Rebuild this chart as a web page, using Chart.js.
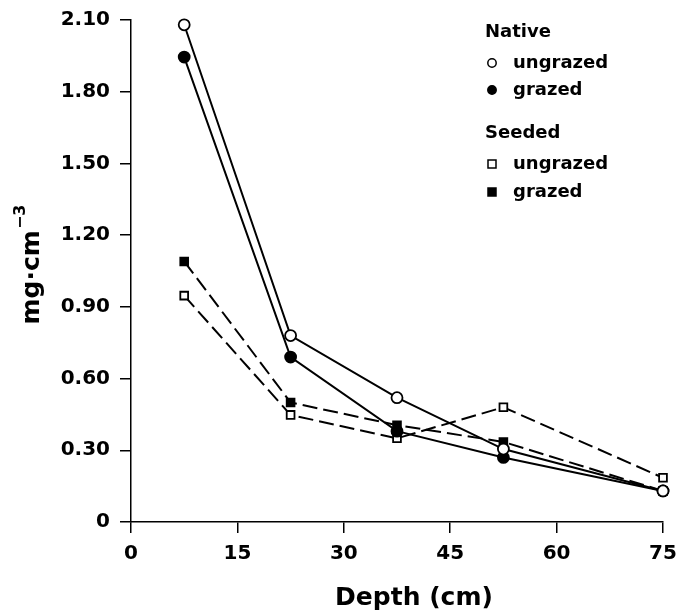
<!DOCTYPE html>
<html lang="en">
<head>
<meta charset="UTF-8">
<title>Depth chart</title>
<script src="https://cdn.jsdelivr.net/npm/chart.js@4.4.0/dist/chart.umd.min.js"></script>
<style>
  body { margin: 0; background: #fff; }
  #wrap { width: 678px; height: 613px; }
</style>
</head>
<body>
<div id="wrap"><canvas id="chart" width="678" height="613"></canvas></div>
<script>
// depth (cm) for every series
const depths = [7.5, 22.5, 37.5, 52.5, 75];
const nativeUngrazed = [2.08, 0.78, 0.52, 0.305, 0.13];
const nativeGrazed = [1.945, 0.69, 0.38, 0.27, 0.13];
const seededUngrazed = [0.947, 0.448, 0.35, 0.48, 0.185];
const seededGrazed = [1.09, 0.50, 0.405, 0.335, 0.13];
const yTicks = [0, 0.30, 0.60, 0.90, 1.20, 1.50, 1.80, 2.10];
const xTicks = [0, 15, 30, 45, 60, 75];

const FONT = '"DejaVu Sans", sans-serif';

function pts(vals) {
    return vals.map((v, i) => ({ x: depths[i], y: v }));
}

function series(label, vals, style, filled, dashed) {
    return {
        label: label,
        data: pts(vals),
        borderColor: '#000',
        borderWidth: 2,
        borderDash: dashed ? [15, 6] : [],
        pointStyle: style,
        pointRadius: 5.5,
        pointBorderWidth: 1.8,
        pointBorderColor: '#000',
        pointBackgroundColor: filled ? '#000' : '#fff',
        clip: false
    };
}

// titles (with superscript) + legend with group headers
const extras = {
    id: 'extras',
    afterDraw(chart) {
        const c = chart.ctx;
        c.save();
        c.fillStyle = '#000';
        c.textBaseline = 'alphabetic';
        // x axis title
        c.font = 'bold 25px ' + FONT;
        c.textAlign = 'center';
        c.fillText('Depth (cm)', 414, 605);
        c.textAlign = 'left';
        // y axis title
        c.translate(39, 265);
        c.rotate(-Math.PI / 2);
        const main = 'mg\u00B7cm';
        const sup = '\u22123';
        c.font = 'bold 25px ' + FONT;
        const w1 = c.measureText(main).width;
        c.font = 'bold 16px ' + FONT;
        const w2 = c.measureText(sup).width;
        const x0 = -(w1 + w2) / 2;
        c.font = 'bold 25px ' + FONT;
        c.fillText(main, x0, 0);
        c.font = 'bold 16px ' + FONT;
        c.fillText(sup, x0 + w1 + 1, -14);
        c.restore();

        // legend
        c.save();
        c.fillStyle = '#000';
        c.strokeStyle = '#000';
        c.lineWidth = 1.5;
        c.textBaseline = 'middle';
        c.font = 'bold 18px ' + FONT;
        const mx = 492, tx = 513;
        const rows = [
            { head: 'Native', y: 32 },
            { mark: 'circle', fill: false, text: 'ungrazed', y: 63 },
            { mark: 'circle', fill: true, text: 'grazed', y: 90 },
            { head: 'Seeded', y: 133 },
            { mark: 'rect', fill: false, text: 'ungrazed', y: 164 },
            { mark: 'rect', fill: true, text: 'grazed', y: 192 }
        ];
        rows.forEach(r => {
            if (r.head) {
                c.fillText(r.head, 485, r.y);
                return;
            }
            c.beginPath();
            if (r.mark === 'circle') {
                c.arc(mx, r.y, 4.2, 0, Math.PI * 2);
            } else {
                c.rect(mx - 4, r.y - 4, 8, 8);
            }
            c.fillStyle = r.fill ? '#000' : '#fff';
            c.fill();
            c.stroke();
            c.fillStyle = '#000';
            c.fillText(r.text, tx, r.y);
        });
        c.restore();
    }
};

new Chart(document.getElementById('chart'), {
    type: 'line',
    data: {
        datasets: [
            series('Native ungrazed', nativeUngrazed, 'circle', false, false),
            series('Native grazed', nativeGrazed, 'circle', true, false),
            series('Seeded ungrazed', seededUngrazed, 'rect', false, true),
            series('Seeded grazed', seededGrazed, 'rect', true, true)
        ]
    },
    options: {
        responsive: false,
        animation: false,
        layout: { padding: { top: 20, right: 15, left: 0, bottom: 0 } },
        plugins: { legend: { display: false }, tooltip: { enabled: false } },
        scales: {
            x: {
                type: 'linear',
                min: 0,
                max: 75,
                afterBuildTicks(axis) { axis.ticks = xTicks.map(v => ({ value: v })); },
                afterFit(axis) {
                    axis.height = 91;
                    axis.paddingLeft = 0;
                    axis.paddingRight = 0;
                },
                grid: { drawOnChartArea: false, drawTicks: true, tickLength: 11, color: '#000', lineWidth: 1.5 },
                border: { display: true, color: '#000', width: 1.5 },
                ticks: { color: '#000', padding: 9, font: { family: FONT, size: 20, weight: 'bold' }, maxRotation: 0 }
            },
            y: {
                type: 'linear',
                min: 0,
                max: 2.1,
                afterBuildTicks(axis) { axis.ticks = yTicks.map(v => ({ value: v })); },
                afterFit(axis) {
                    axis.width = 131;
                    axis.paddingTop = 0;
                    axis.paddingBottom = 0;
                },
                grid: { drawOnChartArea: false, drawTicks: true, tickLength: 11, color: '#000', lineWidth: 1.5 },
                border: { display: true, color: '#000', width: 1.5 },
                ticks: {
                    color: '#000',
                    padding: 10,
                    font: { family: FONT, size: 20, weight: 'bold' },
                    callback: v => v === 0 ? '0' : v.toFixed(2)
                }
            }
        }
    },
    plugins: [extras]
});
</script>
</body>
</html>
